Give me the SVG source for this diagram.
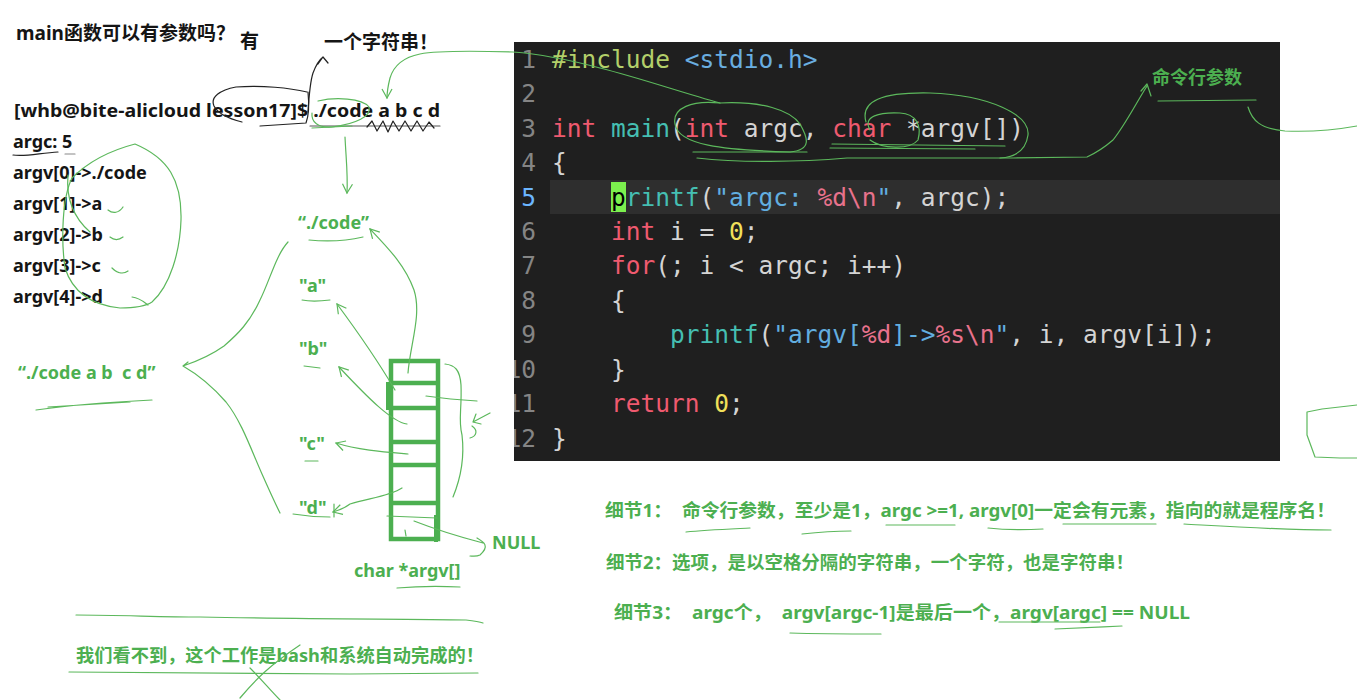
<svg xmlns="http://www.w3.org/2000/svg" width="1357" height="700" viewBox="0 0 1357 700">
<defs>
<style>
.t{font-family:"Noto Sans","Noto Sans CJK SC",sans-serif;font-weight:700;font-size:18px;fill:#151515}
.g{fill:#4caf50}
.c{font-family:"DejaVu Sans Mono",monospace;font-size:24.5px;fill:#d4d4d4;white-space:pre}
.ln{fill:#858585}
.kw{fill:#ef5a6f}.fn{fill:#45bfb2}.inc{fill:#b3cf6a}.hd{fill:#6aaee0}.st{fill:#62aee0}.es{fill:#e8728c}.nu{fill:#f1e05a}
.hw{fill:none;stroke:#5cb85c;stroke-width:1.2;stroke-linecap:round;stroke-linejoin:round}
.hk{fill:none;stroke:#222;stroke-width:1.2;stroke-linecap:round;stroke-linejoin:round}
.box{fill:none;stroke:#4caf50;stroke-width:4.5}
</style>
<marker id="ah" viewBox="0 0 12 12" refX="10" refY="6" markerWidth="12" markerHeight="12" markerUnits="userSpaceOnUse" orient="auto">
<path d="M1,1 L10,6 L1,11" fill="none" stroke="#5cb85c" stroke-width="1.2"/>
</marker>
<clipPath id="cb"><rect x="514" y="42" width="766" height="419"/></clipPath>
</defs>
<rect width="1357" height="700" fill="#fff"/>

<g id="code-block">
<rect x="514" y="42" width="766" height="419" fill="#1f1f1f"/>
<rect x="550" y="180" width="730" height="34" fill="#2e2e2e"/>
<rect x="611" y="182" width="15" height="30" fill="#7cf04e"/>
<g clip-path="url(#cb)" xml:space="preserve">
<g class="c ln" text-anchor="end">
<text x="536" y="68">1</text><text x="536" y="102">2</text><text x="536" y="137">3</text><text x="536" y="171">4</text>
<text x="536" y="206" fill="#6cb6ff" style="fill:#6cb6ff">5</text><text x="536" y="240">6</text><text x="536" y="274">7</text><text x="536" y="309">8</text>
<text x="536" y="343">9</text><text x="536" y="378">10</text><text x="536" y="412">11</text><text x="536" y="447">12</text>
</g>
<text class="c" x="552" y="68"><tspan class="inc">#include</tspan> <tspan class="hd">&lt;stdio.h&gt;</tspan></text>
<text class="c" x="552" y="137"><tspan class="kw">int</tspan> <tspan class="fn">main</tspan>(<tspan class="kw">int</tspan> argc, <tspan class="kw">char</tspan> *argv[])</text>
<text class="c" x="552" y="171">{</text>
<text class="c" x="611" y="206"><tspan fill="#000" style="fill:#000">p</tspan><tspan class="fn">rintf</tspan>(<tspan class="st">"argc: </tspan><tspan class="es">%d\n</tspan><tspan class="st">"</tspan>, argc);</text>
<text class="c" x="611" y="240"><tspan class="kw">int</tspan> i = <tspan class="nu">0</tspan>;</text>
<text class="c" x="611" y="274"><tspan class="kw">for</tspan>(; i &lt; argc; i++)</text>
<text class="c" x="611" y="309">{</text>
<text class="c" x="670" y="343"><tspan class="fn">printf</tspan>(<tspan class="st">"argv[</tspan><tspan class="es">%d</tspan><tspan class="st">]-&gt;</tspan><tspan class="es">%s\n</tspan><tspan class="st">"</tspan>, i, argv[i]);</text>
<text class="c" x="611" y="378">}</text>
<text class="c" x="611" y="412"><tspan class="kw">return</tspan> <tspan class="nu">0</tspan>;</text>
<text class="c" x="552" y="447">}</text>
</g>
</g>

<g id="question"><text class="t" x="16" y="40" style="font-size:19px">main函数可以有参数吗？</text></g>
<g id="answer"><text class="t" x="240" y="48" style="font-size:19px">有</text></g>
<g id="one-string"><text class="t" x="324" y="49" style="font-size:19px">一个字符串！</text></g>
<g id="command"><text class="t" x="14" y="117" textLength="426" lengthAdjust="spacingAndGlyphs">[whb@bite-alicloud lesson17]$ ./code a b c d</text></g>
<g id="output">
<text class="t" x="13" y="148">argc: 5</text>
<text class="t" x="13" y="179">argv[0]-&gt;./code</text>
<text class="t" x="13" y="210">argv[1]-&gt;a</text>
<text class="t" x="13" y="241">argv[2]-&gt;b</text>
<text class="t" x="13" y="272">argv[3]-&gt;c</text>
<text class="t" x="13" y="303">argv[4]-&gt;d</text>
</g>
<g id="cmdline-string"><text class="t g" x="18" y="379" xml:space="preserve">“./code a b  c d”</text></g>
<g id="strings">
<text class="t g" x="298" y="229">“./code”</text>
<text class="t g" x="299" y="292">"a"</text>
<text class="t g" x="299" y="355">"b"</text>
<text class="t g" x="299" y="450">"c"</text>
<text class="t g" x="299" y="514">"d"</text>
</g>
<g id="argv-array">
<rect class="box" x="391" y="361" width="47" height="178"/>
<path class="box" d="M391,383 H438 M391,408 H438 M391,442 H438 M391,465 H438 M391,503 H438"/>
<path d="M388,382 V410" stroke="#4caf50" stroke-width="4" fill="none"/>
<path d="M436,515 V542" stroke="#4caf50" stroke-width="4" fill="none"/>
</g>
<g id="null-label"><text class="t g" x="492" y="549">NULL</text></g>
<g id="argv-label"><text class="t g" x="354" y="577">char *argv[]</text></g>
<g id="cmd-param-label"><text class="t g" x="1152" y="84">命令行参数</text></g>
<g id="note1"><text class="t g" x="605" y="517" textLength="730" lengthAdjust="spacingAndGlyphs" xml:space="preserve">细节1：  命令行参数，至少是1，argc &gt;=1, argv[0]一定会有元素，指向的就是程序名！</text></g>
<g id="note2"><text class="t g" x="606" y="569" textLength="528" lengthAdjust="spacingAndGlyphs">细节2：选项，是以空格分隔的字符串，一个字符，也是字符串！</text></g>
<g id="note3"><text class="t g" x="614" y="619" textLength="576" lengthAdjust="spacingAndGlyphs" xml:space="preserve">细节3：  argc个，  argv[argc-1]是最后一个，argv[argc] == NULL</text></g>
<g id="bottom-note"><text class="t g" x="76" y="662" textLength="408" lengthAdjust="spacingAndGlyphs">我们看不到，这个工作是bash和系统自动完成的！</text></g>

<g id="connectors">
<path class="hw" marker-end="url(#ah)" d="M408,373 C410,345 422,315 414,290 C405,265 388,248 370,229"/>
<path class="hw" marker-end="url(#ah)" d="M395,390 C382,368 360,335 337,304"/>
<path class="hw" marker-end="url(#ah)" d="M407,424 C392,422 368,398 339,367"/>
<path class="hw" marker-end="url(#ah)" d="M408,454 C385,452 358,450 336,443"/>
<path class="hw" marker-end="url(#ah)" d="M402,488 C390,496 370,498 350,504 C345,508 340,510 333,512"/>
<path class="hw" d="M414,521 C432,528 460,537 483,543 M477,538 C484,542 490,546 480,555 C476,557 472,556 470,556"/>
<path class="hw" d="M426,396 C440,398 460,400 477,401"/>
<path class="hw" d="M445,364 C455,365 460,370 461,385 C462,410 458,420 462,435 C465,460 460,480 453,497"/>
<path class="hw" d="M490,413 L473,422 M476,414 L473,422 L481,424 M472,426 C478,430 477,436 470,438"/>
<path class="hw" d="M387,516 L437,518 M405,530 L406,536"/>
<path class="hw" d="M288,242 C276,255 270,280 260,300 C250,322 238,334 224,346 C210,356 195,362 183,366 M188,362 L183,366 C197,374 212,386 226,402 C242,422 252,452 262,474 C270,492 276,505 280,513"/>
<path class="hw" marker-end="url(#ah)" d="M345,137 C346,158 348,175 347,193"/>
<path class="hw" marker-end="url(#ah)" d="M720,103 C680,92 640,78 600,68 C570,60 540,54 513,52 C480,51 440,50 420,54 C400,58 393,68 390,78 C388,86 387,92 387,98"/>
<path class="hw" d="M697,158 C740,163 800,162 847,158 L1013,158 L1087,157 C1098,152 1106,146 1113,140 C1125,125 1135,105 1147,86"/>
<path class="hw" d="M1141,91 L1147,84 L1151,96"/>
<path class="hw" d="M1248,107 C1252,120 1260,129 1285,131 C1310,132 1335,130 1357,126"/>
</g>

<g id="annotations">
<path class="hk" d="M307,92 C290,88 262,85 236,87 C220,90 210,97 214,106 C218,114 230,119 242,122"/>
<path class="hk" d="M260,126 L306,123 C309,115 309,102 308,92"/>
<path class="hk" d="M308,112 C309,96 310,82 313,73 C316,65 319,60 323,57 M318,64 L323,57 L328,63"/>
<path class="hk" d="M310,126 L440,126" style="stroke:#555"/>
<path class="hk" d="M367,127 L372,121 L377,131 L383,121 L388,132 L393,121 L399,131 L405,121 L411,131 L417,121 L423,131 L429,122 L434,128"/>
<path class="hw" d="M318,101 C335,97 362,98 369,107 C372,116 356,124 332,127 C318,128 311,122 312,113"/>
<path class="hw" d="M312,128 L352,126"/>
<path class="hk" d="M13,155 C25,157 40,153 58,152"/>
<path class="hk" d="M65,154 L75,154" style="stroke:#888"/>
<path class="hw" d="M135,144 C112,150 90,160 72,178 C62,198 61,240 65,268 C72,290 90,305 120,308 C135,308 146,306 152,302 C170,286 180,252 181,220 C182,180 168,158 135,144"/>
<path class="hw" d="M68,175 C66,198 74,218 90,232"/>
<path class="hw" d="M108,210 C113,214 119,213 123,207 M110,237 C115,241 119,240 123,237 M112,268 C118,274 124,274 128,271 M132,297 C140,298 144,302 148,305"/>
<path class="hw" d="M720,103 C692,100 672,108 675,124 C678,145 722,150 790,152 C812,150 808,138 800,124 C790,110 762,101 720,103"/>
<path class="hw" d="M693,152 L807,152"/>
<path class="hw" d="M866,122 C860,101 882,92 930,93 C990,95 1030,115 1028,135 C1026,150 1016,157 1000,158"/>
<path class="hw" d="M870,130 C862,116 880,112 900,113 C916,114 922,125 918,140 C910,150 882,149 870,140"/>
<path class="hw" d="M832,144 L1005,146 M830,148 L975,149"/>
<path class="hw" d="M1158,101 L1256,100"/>
<path class="hw" d="M1357,405 L1322,409 L1307,412 L1307,435 L1315,457 L1340,458 L1357,458"/>
<path class="hw" d="M309,240 C330,242 350,240 363,237 M302,300 C312,302 322,301 330,300 M304,366 L320,368 M305,461 L318,461 M293,514 C305,516 318,517 330,517 M334,504 L334,517"/>
<path class="hw" d="M36,410 C70,405 110,402 152,400 M48,407 L130,402"/>
<path class="hw" d="M397,588 C420,586 440,586 460,587"/>
<path class="hw" d="M686,532 C705,530 730,529 750,528 M802,534 C820,532 835,531 851,531 M886,525 L955,525 M988,528 C1005,530 1025,530 1043,529 M1063,524 L1156,524 M1184,524 C1220,526 1280,530 1331,530"/>
<path class="hw" d="M790,633 C820,634 850,634 881,634 M999,622 L1100,622 M1055,629 C1080,628 1100,627 1122,626"/>
<path class="hw" d="M76,615 C120,615 160,617 200,617 C300,619 400,619 466,620 C474,621 480,622 483,623"/>
<path class="hw" d="M69,672 C150,672 250,674 350,674 C400,674 450,673 478,673"/>
<path class="hw" d="M250,668 C262,680 270,690 280,700 M240,698 C255,680 270,665 300,645"/>
</g>
</svg>
